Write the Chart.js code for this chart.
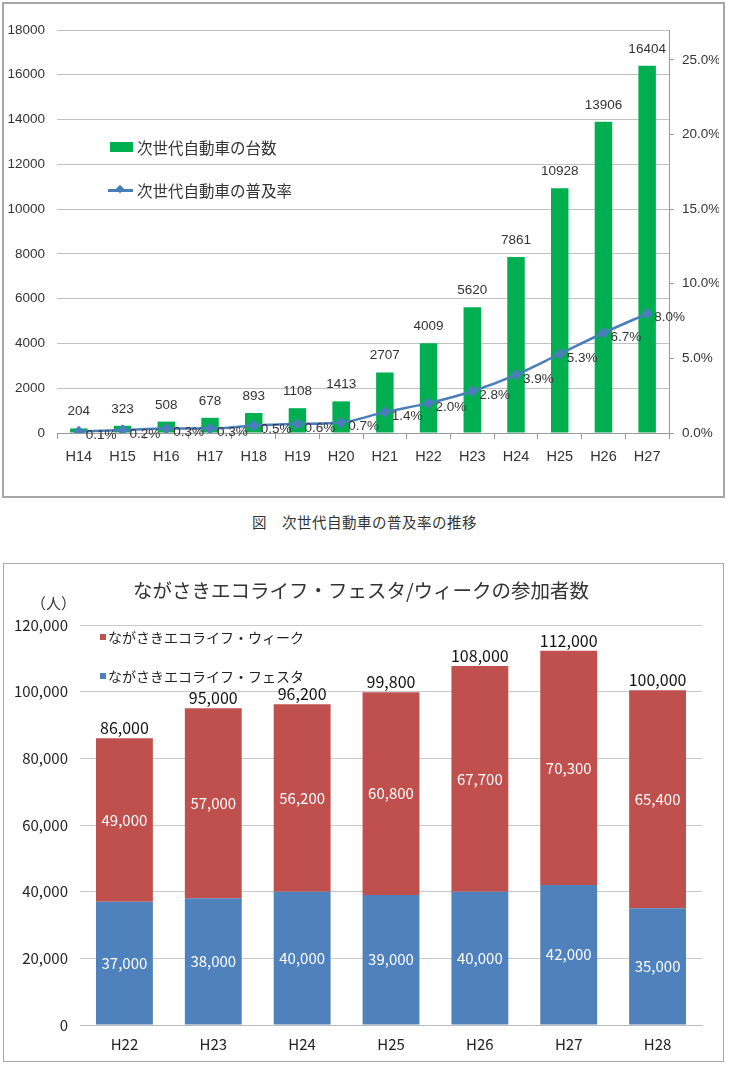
<!DOCTYPE html>
<html>
<head>
  <meta charset="utf-8">
  <title>次世代自動車 / エコライフ参加者数</title>
  <script src="https://cdn.jsdelivr.net/npm/chart.js"></script>
  <style>
    body { margin: 0; background: #fff; width: 729px; height: 1077px; position: relative; overflow: hidden; }
    .box { position: absolute; box-sizing: border-box; }
    .abs { position: absolute; white-space: nowrap; }
    .jp { font-family: "Noto Sans CJK JP", sans-serif; }
  </style>
</head>
<body>
  <div class="box" style="left:2px; top:2px; width:723px; height:496px; border:2px solid #a6a6a6;"></div>
  <canvas id="vehicleChart" class="abs" style="left:0; top:0;" width="729" height="500"></canvas>
  <div id="vehicleLegend"></div>

  <div class="abs jp" style="left:0; width:729px; top:511px; text-align:center; font-size:14.5px; color:#333; letter-spacing:0.5px;">図　次世代自動車の普及率の推移</div>

  <div class="box" style="left:3px; top:563px; width:721px; height:499px; border:1.5px solid #a6a6a6;"></div>
  <canvas id="ecoChart" class="abs" style="left:0; top:560px;" width="729" height="510"></canvas>
  <div class="abs jp" style="left:0; width:722px; top:575px; text-align:center; font-size:19.5px; color:#333;">ながさきエコライフ・フェスタ/ウィークの参加者数</div>
  <div class="abs jp" style="left:31px; top:592px; font-size:15px; color:#333;">（人）</div>
  <div id="ecoLegend"></div>

  <script>
    // 次世代自動車
    const vehicleYears = ['H14', 'H15', 'H16', 'H17', 'H18', 'H19', 'H20', 'H21', 'H22', 'H23', 'H24', 'H25', 'H26', 'H27'];
    const vehicleCounts = [204, 323, 508, 678, 893, 1108, 1413, 2707, 4009, 5620, 7861, 10928, 13906, 16404];
    const adoptionRate = [0.1, 0.2, 0.3, 0.3, 0.5, 0.6, 0.7, 1.4, 2.0, 2.8, 3.9, 5.3, 6.7, 8.0];

    // エコライフ・フェスタ/ウィーク
    const ecoYears = ['H22', 'H23', 'H24', 'H25', 'H26', 'H27', 'H28'];
    const festaVisitors = [37000, 38000, 40000, 39000, 40000, 42000, 35000];
    const weekVisitors = [49000, 57000, 56200, 60800, 67700, 70300, 65400];
    const totalVisitors = [86000, 95000, 96200, 99800, 108000, 112000, 100000];

    const numFont = '"Liberation Sans", Arial, sans-serif';
    const jpFont = '"Noto Sans CJK JP", sans-serif';

    const vehicleLabels = {
      id: 'vehicleLabels',
      afterDatasetsDraw(chart) {
        const ctx = chart.ctx;
        ctx.save();
        ctx.font = '13.5px ' + numFont;
        ctx.fillStyle = '#333';
        const bars = chart.getDatasetMeta(1).data;
        ctx.textAlign = 'center';
        ctx.textBaseline = 'bottom';
        bars.forEach((b, i) => ctx.fillText(vehicleCounts[i], b.x, b.y - 10));
        const pts = chart.getDatasetMeta(0).data;
        ctx.textAlign = 'left';
        ctx.textBaseline = 'middle';
        pts.forEach((p, i) => ctx.fillText(adoptionRate[i].toFixed(1) + '%', p.x + 7, p.y + 4));
        ctx.restore();
      }
    };

    const vehicleChart = new Chart(document.getElementById('vehicleChart'), {
      data: {
        labels: vehicleYears,
        datasets: [{
          type: 'line',
          label: '次世代自動車の普及率',
          data: adoptionRate,
          yAxisID: 'y1',
          order: 1,
          borderColor: '#4A7EBB',
          backgroundColor: '#4A7EBB',
          borderWidth: 2.5,
          pointStyle: 'rectRot',
          pointRadius: 4,
          cubicInterpolationMode: 'monotone'
        }, {
          type: 'bar',
          label: '次世代自動車の台数',
          data: vehicleCounts,
          yAxisID: 'y',
          order: 2,
          backgroundColor: '#00B050',
          barPercentage: 0.4,
          categoryPercentage: 1
        }]
      },
      options: {
        responsive: false,
        animation: false,
        layout: { padding: { top: 30, right: 10, bottom: 27, left: 0 } },
        plugins: { legend: { display: false }, tooltip: { enabled: false } },
        scales: {
          x: {
            grid: { display: true, drawOnChartArea: false, drawTicks: true, tickLength: 6, color: '#999', offset: true },
            border: { display: true, color: '#999' },
            ticks: { font: { size: 14.5, family: numFont }, color: '#333', padding: 9 },
            afterFit(s) { s.height = 40; }
          },
          y: {
            position: 'left',
            min: 0, max: 18000,
            ticks: {
              stepSize: 2000, font: { size: 13.5, family: numFont }, color: '#333', padding: 12,
              callback: v => String(v)
            },
            grid: { color: '#c0c0c0', drawTicks: false },
            border: { display: false },
            afterFit(s) { s.width = 57; }
          },
          y1: {
            position: 'right',
            min: 0, max: 27,
            ticks: {
              stepSize: 5, includeBounds: false,
              font: { size: 13.5, family: numFont }, color: '#333', padding: 8,
              callback: v => v.toFixed(1) + '%'
            },
            grid: { drawOnChartArea: false, tickLength: 5, color: '#999' },
            border: { display: true, color: '#999' },
            afterFit(s) { s.width = 50; }
          }
        }
      },
      plugins: [vehicleLabels]
    });

    // legend inside the plot, built from the datasets
    const vLegend = document.getElementById('vehicleLegend');
    [1, 0].forEach((di, k) => {
      const ds = vehicleChart.data.datasets[di];
      const top = 147 + k * 43;
      const mark = ds.type === 'bar'
        ? `<div class="abs" style="left:110px; top:${top - 5}px; width:23px; height:10px; background:${ds.backgroundColor};"></div>`
        : `<div class="abs" style="left:108px; top:${top - 1}px; width:25px; height:2.5px; background:${ds.borderColor};"></div>
           <div class="abs" style="left:117px; top:${top - 4}px; width:6px; height:6px; background:${ds.borderColor}; transform:rotate(45deg);"></div>`;
      vLegend.insertAdjacentHTML('beforeend', mark +
        `<div class="abs jp" style="left:137px; top:${top - 11}px; line-height:22px; font-size:15.5px; color:#333;">${ds.label}</div>`);
    });

    const ecoLabels = {
      id: 'ecoLabels',
      afterDatasetsDraw(chart) {
        const ctx = chart.ctx;
        ctx.save();
        ctx.textAlign = 'center';
        ctx.font = '15px ' + jpFont;
        ctx.fillStyle = '#fff';
        ctx.textBaseline = 'middle';
        [0, 1].forEach(di => {
          const vals = chart.data.datasets[di].data;
          chart.getDatasetMeta(di).data.forEach((b, i) => {
            ctx.fillText(vals[i].toLocaleString('en-US'), b.x, (b.y + b.base) / 2);
          });
        });
        ctx.fillStyle = '#111';
        ctx.font = '16px ' + jpFont;
        ctx.textBaseline = 'bottom';
        chart.getDatasetMeta(1).data.forEach((b, i) => {
          ctx.fillText(totalVisitors[i].toLocaleString('en-US'), b.x, b.y - 2);
        });
        ctx.restore();
      }
    };

    const ecoChart = new Chart(document.getElementById('ecoChart'), {
      type: 'bar',
      data: {
        labels: ecoYears,
        datasets: [{
          label: 'ながさきエコライフ・フェスタ',
          data: festaVisitors,
          backgroundColor: '#4F81BD',
          barPercentage: 0.64,
          categoryPercentage: 1
        }, {
          label: 'ながさきエコライフ・ウィーク',
          data: weekVisitors,
          backgroundColor: '#C0504D',
          barPercentage: 0.64,
          categoryPercentage: 1
        }]
      },
      options: {
        responsive: false,
        animation: false,
        layout: { padding: { top: 65, right: 27, bottom: 10, left: 0 } },
        plugins: { legend: { display: false }, tooltip: { enabled: false } },
        scales: {
          x: {
            stacked: true,
            grid: { display: false },
            border: { display: true, color: '#bbb' },
            ticks: { font: { size: 15, family: jpFont }, color: '#222', padding: 2 },
            afterFit(s) { s.height = 35; }
          },
          y: {
            stacked: true,
            min: 0, max: 120000,
            ticks: {
              stepSize: 20000, font: { size: 15, family: jpFont }, color: '#222', padding: 12,
              callback: v => v.toLocaleString('en-US')
            },
            grid: { color: '#c8c8c8', drawTicks: false },
            border: { display: false },
            afterFit(s) { s.width = 80; }
          }
        }
      },
      plugins: [ecoLabels]
    });

    const eLegend = document.getElementById('ecoLegend');
    [1, 0].forEach((di, k) => {
      const ds = ecoChart.data.datasets[di];
      const top = 637 + k * 39;
      eLegend.insertAdjacentHTML('beforeend',
        `<div class="abs" style="left:100px; top:${top - 3}px; width:6px; height:6px; background:${ds.backgroundColor};"></div>
         <div class="abs jp" style="left:108px; top:${top - 10}px; line-height:20px; font-size:14px; color:#222;">${ds.label}</div>`);
    });
  </script>
</body>
</html>
